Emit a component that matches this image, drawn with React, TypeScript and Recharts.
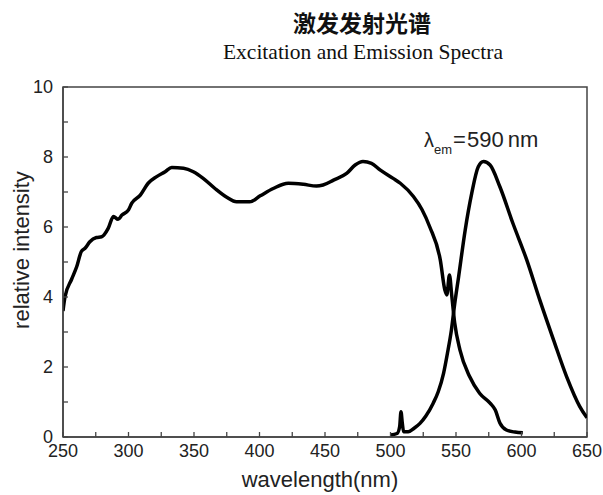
import React from "react";
import { LineChart, Line, XAxis, YAxis, ReferenceArea } from "recharts";

const excitationWavelength = [
  250, 251.5, 256.5, 260.5, 264, 267, 270.5, 275.5, 279.5, 284.5, 288.5, 292, 295, 300, 302.5, 309, 315,
  321.5, 328, 333, 342, 349.5, 357, 366, 375, 382.5, 392.5, 400.5, 410.5, 422, 433.5, 443.5, 448.5, 456.5,
  466.5, 473, 479, 485.5, 492, 502, 507.5, 517.5, 524, 530, 538, 541.5, 543, 545, 546.7, 549, 553, 560.5,
  568, 576, 580, 583.5, 588.5, 595, 601,
];
const excitationIntensity = [
  3.6, 4.0, 4.5, 4.87, 5.3, 5.4, 5.58, 5.7, 5.72, 5.96, 6.3, 6.22, 6.34, 6.49, 6.68, 6.91, 7.25,
  7.44, 7.58, 7.7, 7.68, 7.58, 7.39, 7.1, 6.85, 6.72, 6.72, 6.89, 7.1, 7.25, 7.22, 7.17, 7.2, 7.34,
  7.53, 7.77, 7.87, 7.82, 7.63, 7.39, 7.25, 6.87, 6.5, 6.0, 5.06, 4.2, 4.06, 4.63, 4.06, 3.26, 2.49, 1.72,
  1.25, 0.97, 0.77, 0.4, 0.2, 0.14, 0.12,
];

const emissionWavelength = [
  500, 505, 507, 508, 509, 510, 513.5, 518, 522.5, 527, 532.5, 536.5, 540.5, 543.5, 546.5, 549, 552,
  557, 562, 567, 571, 576, 583.5, 593.5, 604, 614, 624.5, 634.5, 644.5, 650,
];
const emissionIntensity = [
  0.06, 0.1, 0.3, 0.72, 0.4, 0.15, 0.15, 0.25, 0.39, 0.6, 0.96, 1.3, 1.82, 2.4, 3.06, 3.8, 4.58,
  5.91, 6.96, 7.72, 7.87, 7.77, 7.15, 6.1, 5.06, 3.91, 2.77, 1.72, 0.87, 0.55,
];

const xTicks = [250, 275, 300, 325, 350, 375, 400, 425, 450, 475, 500, 525, 550, 575, 600, 625, 650];
const xLabeled = [250, 300, 350, 400, 450, 500, 550, 600, 650];
const yTicks = [0, 1, 2, 3, 4, 5, 6, 7, 8, 9, 10];
const yLabeled = [0, 2, 4, 6, 8, 10];

const titleZh = "激发发射光谱";
const titleEn = "Excitation and Emission Spectra";
const xTitle = "wavelength(nm)";
const yTitle = "relative intensity";

const excitation = excitationWavelength.map((nm, i) => ({ nm, v: excitationIntensity[i] }));
const emission = emissionWavelength.map((nm, i) => ({ nm, v: emissionIntensity[i] }));

const AXIS = "#444";
const FONT = "'Liberation Sans', Arial, sans-serif";
const X_MARGIN = 7;
const Y_MARGIN = 10;
const TICK_LEN = 5;

const XTick = (props: any) => {
  const { x, y, payload } = props;
  const axisY = y - X_MARGIN;
  const labeled = xLabeled.includes(payload.value);
  return (
    <g>
      <line x1={x} x2={x} y1={axisY} y2={axisY - TICK_LEN} stroke={AXIS} strokeWidth={1.3} />
      {labeled && (
        <text x={x} y={y + 13} textAnchor="middle" fontSize={18} fontFamily={FONT} fill="#222">
          {payload.value}
        </text>
      )}
    </g>
  );
};

const YTick = (props: any) => {
  const { x, y, payload } = props;
  const axisX = x + Y_MARGIN;
  const labeled = yLabeled.includes(payload.value);
  return (
    <g>
      <line x1={axisX} x2={axisX + TICK_LEN} y1={y} y2={y} stroke={AXIS} strokeWidth={1.3} />
      {labeled && (
        <text x={x} y={y} dy="0.34em" textAnchor="end" fontSize={18} fontFamily={FONT} fill="#222">
          {payload.value}
        </text>
      )}
    </g>
  );
};

export default function App() {
  return (
    <div style={{ position: "relative", width: 603, height: 495, background: "#fff" }}>
      <style>{"body{margin:0;}"}</style>
      <LineChart
        width={603}
        height={495}
        margin={{ top: 87, right: 16, bottom: 0, left: 0 }}
        style={{ position: "absolute", left: 0, top: 0 }}
      >
        <XAxis
          type="number"
          dataKey="nm"
          domain={[250, 650]}
          ticks={xTicks}
          interval={0}
          allowDataOverflow
          height={58}
          tickSize={0}
          tickMargin={X_MARGIN}
          tickLine={false}
          axisLine={{ stroke: AXIS, strokeWidth: 1.5 }}
          tick={<XTick />}
        />
        <YAxis
          type="number"
          dataKey="v"
          domain={[0, 10]}
          ticks={yTicks}
          interval={0}
          allowDataOverflow
          width={63}
          tickSize={0}
          tickMargin={Y_MARGIN}
          tickLine={false}
          axisLine={{ stroke: AXIS, strokeWidth: 1.5 }}
          tick={<YTick />}
        />
        <ReferenceArea x1={250} x2={650} y1={0} y2={10} fill="none" fillOpacity={0} stroke={AXIS} strokeWidth={1.5} />
        <Line
          data={excitation}
          dataKey="v"
          type="monotone"
          stroke="#000"
          strokeWidth={3.5}
          dot={false}
          activeDot={false}
          isAnimationActive={false}
        />
        <Line
          data={emission}
          dataKey="v"
          type="monotone"
          stroke="#000"
          strokeWidth={3.5}
          dot={false}
          activeDot={false}
          isAnimationActive={false}
        />
      </LineChart>
      <svg width={603} height={495} style={{ position: "absolute", left: 0, top: 0, pointerEvents: "none" }}>
        <text x={362} y={32} textAnchor="middle" fontSize={23} fontWeight={700} fontFamily="'Noto Sans CJK SC', sans-serif" fill="#111">
          {titleZh}
        </text>
        <text x={363} y={59} textAnchor="middle" fontSize={21.5} fontFamily="'Liberation Serif', 'Times New Roman', serif" fill="#111">
          {titleEn}
        </text>
        <text x={320} y={487} textAnchor="middle" fontSize={22} fontFamily={FONT} fill="#222">
          {xTitle}
        </text>
        <text x={29} y={250} textAnchor="middle" fontSize={22} fontFamily={FONT} fill="#222" transform="rotate(-90 29 250)">
          {yTitle}
        </text>
        <text x={424} y={147} fontFamily={FONT} fill="#222">
          <tspan fontSize={20}>λ</tspan>
          <tspan fontSize={13} dy={7}>em</tspan>
          <tspan fontSize={22} dy={-7} dx={1}>=</tspan>
          <tspan fontSize={22} dx={1}>590</tspan>
          <tspan fontSize={22} dx={4}>nm</tspan>
        </text>
      </svg>
    </div>
  );
}
